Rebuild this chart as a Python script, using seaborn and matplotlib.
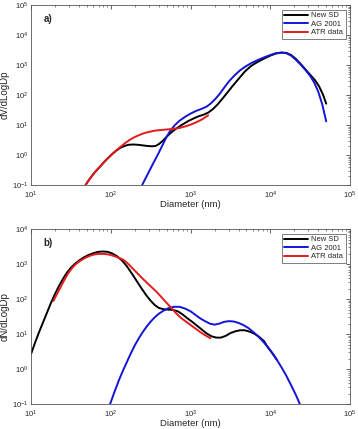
import numpy as np
import pandas as pd
import matplotlib
matplotlib.use("Agg")
import matplotlib.pyplot as plt
import seaborn as sns

# log10 of diameter (nm) and log10 of value
# panel a) dV/dLogDp
a_new_x = [1.68, 1.72, 1.77, 1.82, 1.87, 1.92, 1.97, 2.02, 2.07, 2.12, 2.17, 2.22, 2.28, 2.34, 2.40, 2.46,
           2.52, 2.56, 2.60, 2.65, 2.70, 2.76, 2.83, 2.90, 2.97, 3.04, 3.10, 3.16, 3.22, 3.28, 3.34, 3.40,
           3.47, 3.53, 3.60, 3.68, 3.76, 3.84, 3.92, 4.00, 4.07, 4.14, 4.20, 4.26, 4.32, 4.38, 4.44, 4.50,
           4.56, 4.61, 4.66, 4.70]
a_new_y = [-1.00, -0.84, -0.66, -0.50, -0.36, -0.21, -0.08, 0.05, 0.16, 0.25, 0.31, 0.35, 0.36, 0.35, 0.33, 0.31,
           0.30, 0.31, 0.37, 0.48, 0.62, 0.77, 0.91, 1.03, 1.14, 1.23, 1.30, 1.35, 1.42, 1.54, 1.70, 1.89,
           2.12, 2.32, 2.54, 2.79, 2.98, 3.11, 3.22, 3.32, 3.39, 3.42, 3.41, 3.34, 3.21, 3.04, 2.86, 2.68,
           2.50, 2.30, 2.02, 1.72]
a_ag_x = [2.39, 2.44, 2.49, 2.54, 2.59, 2.64, 2.69, 2.74, 2.80, 2.86, 2.93, 3.00, 3.07, 3.14, 3.20, 3.25,
          3.30, 3.36, 3.42, 3.48, 3.55, 3.62, 3.69, 3.76, 3.84, 3.92, 4.00, 4.07, 4.14, 4.20, 4.26, 4.32,
          4.38, 4.44, 4.50, 4.55, 4.60, 4.65, 4.70]
a_ag_y = [-1.00, -0.74, -0.48, -0.22, 0.03, 0.30, 0.57, 0.80, 1.00, 1.15, 1.28, 1.39, 1.48, 1.55, 1.62, 1.72,
          1.85, 2.03, 2.25, 2.46, 2.66, 2.83, 2.96, 3.07, 3.17, 3.26, 3.34, 3.40, 3.42, 3.40, 3.32, 3.18,
          3.02, 2.84, 2.64, 2.42, 2.12, 1.70, 1.13]
a_atr_x = [1.68, 1.72, 1.77, 1.82, 1.87, 1.92, 1.97, 2.02, 2.07, 2.12, 2.18, 2.24, 2.30, 2.36, 2.42, 2.48,
           2.55, 2.62, 2.70, 2.78, 2.86, 2.93, 3.00, 3.07, 3.14, 3.22]
a_atr_y = [-1.00, -0.84, -0.66, -0.50, -0.36, -0.21, -0.08, 0.05, 0.17, 0.28, 0.41, 0.52, 0.61, 0.68, 0.74, 0.78,
           0.82, 0.84, 0.86, 0.88, 0.91, 0.96, 1.02, 1.10, 1.19, 1.33]

# panel b) dN/dLogDp
b_new_x = [1.00, 1.05, 1.10, 1.15, 1.20, 1.25, 1.30, 1.35, 1.40, 1.45, 1.50, 1.55, 1.60, 1.66, 1.72, 1.78,
           1.84, 1.90, 1.96, 2.02, 2.08, 2.14, 2.20, 2.26, 2.32, 2.38, 2.44, 2.50, 2.55, 2.60, 2.66, 2.72,
           2.78, 2.84, 2.90, 2.96, 3.02, 3.08, 3.14, 3.20, 3.26, 3.32, 3.38, 3.44, 3.50, 3.56, 3.62, 3.68,
           3.74, 3.80, 3.86, 3.92, 3.96, 4.02, 4.08]
b_new_y = [0.44, 0.76, 1.06, 1.34, 1.62, 1.90, 2.15, 2.38, 2.58, 2.76, 2.90, 3.01, 3.10, 3.19, 3.26, 3.31,
           3.35, 3.36, 3.35, 3.30, 3.22, 3.10, 2.94, 2.74, 2.53, 2.32, 2.12, 1.95, 1.83, 1.75, 1.71, 1.70,
           1.69, 1.65, 1.56, 1.45, 1.35, 1.24, 1.13, 1.02, 0.94, 0.90, 0.90, 0.95, 1.03, 1.08, 1.11, 1.11,
           1.07, 1.01, 0.92, 0.80, 0.65, 0.47, 0.27]
b_ag_x = [1.99, 2.05, 2.10, 2.15, 2.20, 2.25, 2.30, 2.35, 2.40, 2.45, 2.50, 2.55, 2.60, 2.66, 2.72, 2.79,
          2.86, 2.93, 3.00, 3.06, 3.12, 3.18, 3.24, 3.30, 3.36, 3.42, 3.48, 3.54, 3.60, 3.66, 3.72, 3.78,
          3.84, 3.90, 3.96, 4.02, 4.08, 4.14, 4.20, 4.26, 4.32, 4.37]
b_ag_y = [-1.00, -0.62, -0.32, -0.05, 0.20, 0.45, 0.68, 0.88, 1.06, 1.22, 1.36, 1.48, 1.58, 1.67, 1.74, 1.78,
          1.78, 1.73, 1.65, 1.55, 1.45, 1.37, 1.30, 1.27, 1.30, 1.35, 1.37, 1.36, 1.32, 1.26, 1.18, 1.07,
          0.95, 0.81, 0.65, 0.47, 0.27, 0.05, -0.19, -0.46, -0.74, -1.00]
b_atr_x = [1.28, 1.32, 1.36, 1.41, 1.46, 1.51, 1.56, 1.62, 1.68, 1.74, 1.80, 1.86, 1.92, 1.98, 2.04, 2.10,
           2.16, 2.22, 2.28, 2.34, 2.40, 2.46, 2.52, 2.58, 2.64, 2.70, 2.76, 2.82, 2.88, 2.94, 3.00, 3.06,
           3.12, 3.18, 3.25]
b_atr_y = [1.95, 2.13, 2.30, 2.52, 2.72, 2.88, 3.00, 3.10, 3.18, 3.24, 3.28, 3.29, 3.29, 3.27, 3.23, 3.18,
           3.12, 3.00, 2.86, 2.72, 2.58, 2.45, 2.32, 2.19, 2.04, 1.89, 1.74, 1.59, 1.46, 1.36, 1.26, 1.16,
           1.06, 0.97, 0.88]

series_names = ["New SD", "AG 2001", "ATR data"]
series_colors = ["black", "#1414d8", "#e41a1c"]

sns.set_style("white")
plt.rcParams["font.family"] = ["Liberation Sans", "DejaVu Sans"]
plt.rcParams["mathtext.fontset"] = "custom"
plt.rcParams["mathtext.rm"] = "Liberation Sans"


def make_df(xs, ys):
    parts = []
    for name, x, y in zip(series_names, xs, ys):
        parts.append(pd.DataFrame({"d": np.power(10.0, x), "v": np.power(10.0, y), "s": name}))
    return pd.concat(parts, ignore_index=True)


df_a = make_df([a_new_x, a_ag_x, a_atr_x], [a_new_y, a_ag_y, a_atr_y])
df_b = make_df([b_new_x, b_ag_x, b_atr_x], [b_new_y, b_ag_y, b_atr_y])

fig = plt.figure(figsize=(3.58, 4.29), dpi=100)
ax1 = fig.add_axes([0.087, 0.568, 0.891, 0.420])
ax2 = fig.add_axes([0.087, 0.058, 0.891, 0.408])

panels = [(ax1, df_a, "dV/dLogDp", (1e-1, 1e5), "a)"),
          (ax2, df_b, "dN/dLogDp", (1e-1, 1e4), "b)")]

for ax, df, ylab, ylim, tag in panels:
    sns.lineplot(data=df, x="d", y="v", hue="s", hue_order=series_names,
                 palette=series_colors, sort=False, estimator=None, lw=1.4, ax=ax)
    ax.set_xscale("log")
    ax.set_yscale("log")
    ax.set_xlim(1e1, 1e5)
    ax.set_ylim(*ylim)
    ax.set_xlabel("Diameter (nm)", fontsize=6.8, labelpad=-0.5)
    ax.set_ylabel(ylab, fontsize=7, labelpad=2)
    ax.tick_params(which="both", direction="in", top=True, right=True, labelsize=5.5)
    ax.tick_params(axis="x", pad=3.0)
    ax.tick_params(axis="y", pad=2)
    ax.tick_params(which="major", length=3, width=0.5)
    ax.tick_params(which="minor", length=1.5, width=0.4)
    for sp in ax.spines.values():
        sp.set_linewidth(0.6)
        sp.set_color("#555555")
    ax.text(0.04, 0.95, tag, transform=ax.transAxes, fontsize=7, fontweight="bold", va="top")
    leg = ax.legend(loc="upper right", fontsize=5.5, frameon=True, fancybox=False,
                    handlelength=3.2, borderpad=0.3, labelspacing=0.15, handletextpad=0.4,
                    borderaxespad=0.6)
    leg.get_frame().set_edgecolor("#444444")
    leg.get_frame().set_linewidth(0.6)
    leg.set_title(None)

fig.savefig("out.png", dpi=100)
